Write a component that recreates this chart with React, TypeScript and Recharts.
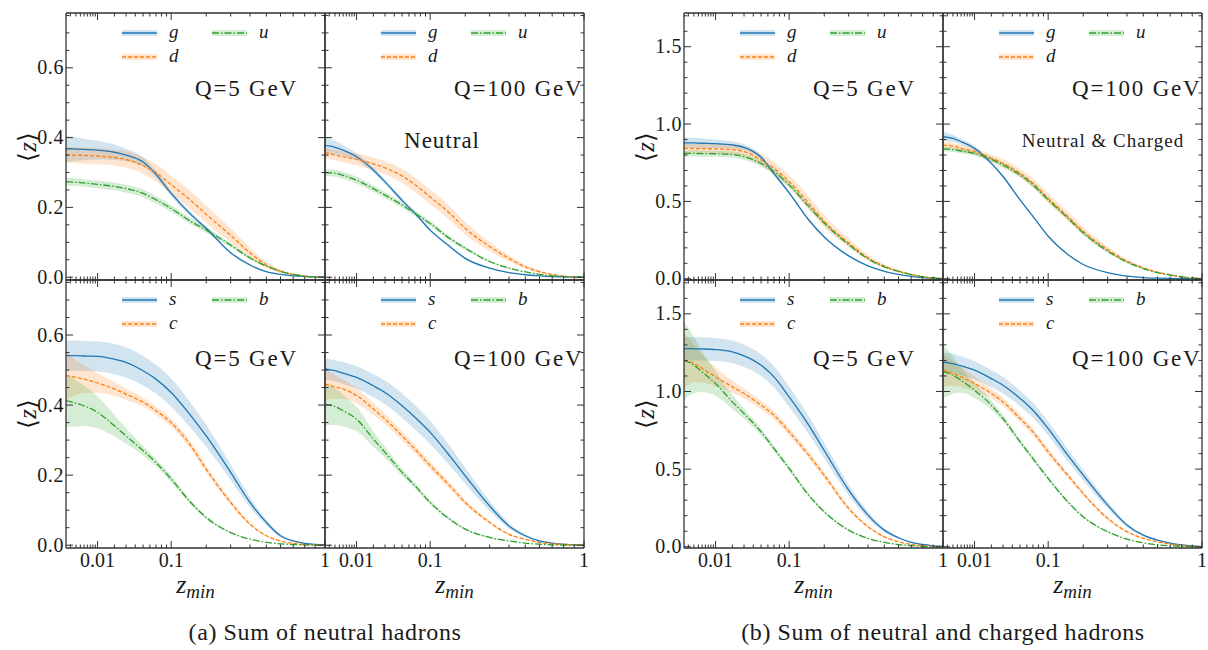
import React from 'react';
import { ComposedChart, Area, Line, XAxis, YAxis } from 'recharts';

// z_min grid shared by all panels
const zGrid = [0.0014, 0.002, 0.003, 0.005, 0.01, 0.02, 0.03, 0.05, 0.07, 0.1, 0.15, 0.2, 0.3, 0.4, 0.5, 0.6, 0.7, 0.8, 0.9, 1];

// (a) neutral hadrons, Q = 5 GeV
const nQ5g = [0.368, 0.368, 0.367, 0.366, 0.364, 0.358, 0.35, 0.33, 0.295, 0.24, 0.18, 0.14, 0.07, 0.035, 0.016, 0.008, 0.004, 0.002, 0.001, 0];
const nQ5gErr = [0.037, 0.036, 0.034, 0.031, 0.027, 0.022, 0.018, 0.013, 0.01, 0.008, 0.007, 0.006, 0.004, 0.003, 0.002, 0.001, 0.001, 0, 0, 0];
const nQ5d = [0.35, 0.35, 0.35, 0.349, 0.347, 0.343, 0.337, 0.32, 0.3, 0.265, 0.22, 0.18, 0.12, 0.07, 0.035, 0.017, 0.008, 0.003, 0.001, 0];
const nQ5dErr = [0.023, 0.023, 0.023, 0.023, 0.023, 0.023, 0.023, 0.024, 0.025, 0.026, 0.026, 0.025, 0.02, 0.014, 0.009, 0.005, 0.003, 0.001, 0, 0];
const nQ5u = [0.273, 0.273, 0.272, 0.27, 0.266, 0.26, 0.254, 0.24, 0.222, 0.197, 0.16, 0.135, 0.092, 0.055, 0.032, 0.017, 0.008, 0.003, 0.001, 0];
const nQ5uErr = [0.011, 0.011, 0.011, 0.011, 0.011, 0.011, 0.011, 0.011, 0.011, 0.01, 0.009, 0.008, 0.006, 0.004, 0.003, 0.002, 0.001, 0, 0, 0];
const nQ5s = [0.541, 0.541, 0.541, 0.54, 0.539, 0.531, 0.522, 0.498, 0.474, 0.436, 0.37, 0.312, 0.208, 0.122, 0.065, 0.027, 0.012, 0.005, 0.002, 0.001];
const nQ5sErr = [0.043, 0.043, 0.043, 0.043, 0.043, 0.043, 0.043, 0.042, 0.041, 0.04, 0.036, 0.032, 0.022, 0.014, 0.008, 0.004, 0.002, 0.001, 0, 0];
const nQ5c = [0.484, 0.482, 0.479, 0.474, 0.463, 0.446, 0.431, 0.408, 0.384, 0.35, 0.284, 0.217, 0.122, 0.06, 0.027, 0.012, 0.005, 0.002, 0.001, 0];
const nQ5cErr = [0.07, 0.06, 0.05, 0.04, 0.028, 0.02, 0.016, 0.013, 0.012, 0.012, 0.011, 0.01, 0.007, 0.004, 0.002, 0.001, 0.001, 0, 0, 0];
const nQ5b = [0.412, 0.41, 0.405, 0.398, 0.379, 0.341, 0.312, 0.27, 0.236, 0.189, 0.122, 0.079, 0.036, 0.017, 0.008, 0.004, 0.002, 0.001, 0, 0];
const nQ5bErr = [0.075, 0.072, 0.066, 0.058, 0.046, 0.031, 0.022, 0.014, 0.011, 0.009, 0.006, 0.004, 0.002, 0.001, 0, 0, 0, 0, 0, 0];

// (a) neutral hadrons, Q = 100 GeV
const nQ100g = [0.378, 0.376, 0.372, 0.364, 0.345, 0.307, 0.273, 0.22, 0.183, 0.135, 0.088, 0.054, 0.026, 0.013, 0.007, 0.004, 0.002, 0.001, 0, 0];
const nQ100gErr = [0.025, 0.022, 0.019, 0.015, 0.01, 0.008, 0.007, 0.006, 0.005, 0.004, 0.003, 0.003, 0.002, 0.001, 0.001, 0, 0, 0, 0, 0];
const nQ100d = [0.356, 0.354, 0.35, 0.345, 0.338, 0.325, 0.313, 0.29, 0.265, 0.23, 0.183, 0.14, 0.088, 0.054, 0.03, 0.016, 0.008, 0.003, 0.001, 0];
const nQ100dErr = [0.015, 0.015, 0.015, 0.016, 0.017, 0.018, 0.019, 0.02, 0.021, 0.021, 0.02, 0.018, 0.013, 0.009, 0.006, 0.004, 0.002, 0.001, 0, 0];
const nQ100u = [0.3, 0.299, 0.298, 0.292, 0.278, 0.254, 0.235, 0.207, 0.183, 0.154, 0.111, 0.083, 0.045, 0.026, 0.015, 0.008, 0.004, 0.002, 0.001, 0];
const nQ100uErr = [0.01, 0.01, 0.01, 0.01, 0.01, 0.009, 0.009, 0.008, 0.008, 0.007, 0.006, 0.005, 0.003, 0.002, 0.001, 0.001, 0, 0, 0, 0];
const nQ100s = [0.503, 0.501, 0.498, 0.491, 0.479, 0.455, 0.436, 0.398, 0.365, 0.322, 0.255, 0.198, 0.112, 0.055, 0.027, 0.012, 0.006, 0.003, 0.001, 0];
const nQ100sErr = [0.03, 0.03, 0.03, 0.031, 0.032, 0.033, 0.034, 0.035, 0.035, 0.033, 0.028, 0.023, 0.014, 0.008, 0.004, 0.002, 0.001, 0, 0, 0];
const nQ100c = [0.46, 0.457, 0.452, 0.446, 0.427, 0.389, 0.36, 0.312, 0.274, 0.227, 0.17, 0.122, 0.065, 0.031, 0.017, 0.008, 0.004, 0.002, 0.001, 0];
const nQ100cErr = [0.045, 0.04, 0.034, 0.028, 0.022, 0.017, 0.015, 0.013, 0.012, 0.011, 0.009, 0.007, 0.004, 0.002, 0.001, 0.001, 0, 0, 0, 0];
const nQ100b = [0.403, 0.4, 0.396, 0.384, 0.36, 0.303, 0.265, 0.208, 0.17, 0.122, 0.074, 0.046, 0.022, 0.012, 0.006, 0.003, 0.001, 0, 0, 0];
const nQ100bErr = [0.06, 0.057, 0.052, 0.045, 0.035, 0.022, 0.016, 0.01, 0.008, 0.006, 0.004, 0.003, 0.002, 0.001, 0, 0, 0, 0, 0, 0];

// (b) neutral + charged hadrons, Q = 5 GeV
const cQ5g = [0.879, 0.879, 0.878, 0.876, 0.873, 0.865, 0.85, 0.785, 0.68, 0.555, 0.38, 0.27, 0.148, 0.083, 0.048, 0.028, 0.015, 0.007, 0.003, 0];
const cQ5gErr = [0.035, 0.034, 0.033, 0.031, 0.028, 0.024, 0.02, 0.016, 0.013, 0.01, 0.008, 0.006, 0.004, 0.003, 0.002, 0.001, 0, 0, 0, 0];
const cQ5d = [0.843, 0.843, 0.842, 0.841, 0.84, 0.835, 0.822, 0.768, 0.714, 0.628, 0.489, 0.371, 0.232, 0.135, 0.082, 0.049, 0.028, 0.013, 0.005, 0];
const cQ5dErr = [0.03, 0.03, 0.03, 0.03, 0.031, 0.033, 0.035, 0.038, 0.04, 0.042, 0.042, 0.038, 0.028, 0.018, 0.011, 0.007, 0.004, 0.002, 0.001, 0];
const cQ5u = [0.81, 0.81, 0.81, 0.809, 0.808, 0.803, 0.789, 0.746, 0.693, 0.607, 0.468, 0.36, 0.221, 0.129, 0.077, 0.047, 0.027, 0.013, 0.005, 0];
const cQ5uErr = [0.02, 0.02, 0.02, 0.02, 0.02, 0.02, 0.019, 0.018, 0.017, 0.016, 0.014, 0.012, 0.009, 0.006, 0.004, 0.002, 0.001, 0, 0, 0];
const cQ5s = [1.276, 1.276, 1.275, 1.274, 1.27, 1.255, 1.229, 1.169, 1.094, 0.965, 0.783, 0.62, 0.365, 0.204, 0.107, 0.058, 0.028, 0.015, 0.006, 0.002];
const cQ5sErr = [0.075, 0.075, 0.075, 0.075, 0.074, 0.073, 0.072, 0.07, 0.068, 0.065, 0.058, 0.05, 0.035, 0.022, 0.013, 0.007, 0.004, 0.002, 0.001, 0];
const cQ5c = [1.201, 1.195, 1.18, 1.148, 1.094, 1.03, 0.987, 0.912, 0.847, 0.74, 0.59, 0.461, 0.247, 0.129, 0.064, 0.032, 0.015, 0.007, 0.003, 0];
const cQ5cErr = [0.18, 0.15, 0.12, 0.09, 0.06, 0.04, 0.032, 0.028, 0.026, 0.025, 0.024, 0.021, 0.014, 0.008, 0.004, 0.002, 0.001, 0, 0, 0];
const cQ5b = [1.201, 1.19, 1.169, 1.126, 1.051, 0.933, 0.858, 0.74, 0.633, 0.504, 0.332, 0.225, 0.107, 0.054, 0.028, 0.014, 0.007, 0.003, 0.001, 0];
const cQ5bErr = [0.25, 0.22, 0.18, 0.13, 0.08, 0.045, 0.032, 0.022, 0.018, 0.015, 0.012, 0.009, 0.005, 0.003, 0.002, 0.001, 0, 0, 0, 0];

// (b) neutral + charged hadrons, Q = 100 GeV
const cQ100g = [0.918, 0.914, 0.907, 0.886, 0.843, 0.746, 0.661, 0.51, 0.403, 0.275, 0.157, 0.092, 0.039, 0.017, 0.008, 0.004, 0.002, 0.001, 0, 0];
const cQ100gErr = [0.03, 0.027, 0.023, 0.019, 0.015, 0.011, 0.009, 0.007, 0.006, 0.005, 0.004, 0.003, 0.002, 0.001, 0, 0, 0, 0, 0, 0];
const cQ100d = [0.864, 0.862, 0.858, 0.843, 0.822, 0.779, 0.746, 0.682, 0.618, 0.521, 0.403, 0.307, 0.189, 0.114, 0.071, 0.043, 0.026, 0.013, 0.005, 0];
const cQ100dErr = [0.02, 0.02, 0.02, 0.021, 0.022, 0.024, 0.026, 0.028, 0.03, 0.031, 0.03, 0.026, 0.018, 0.011, 0.007, 0.004, 0.002, 0.001, 0, 0];
const cQ100u = [0.839, 0.838, 0.835, 0.826, 0.811, 0.772, 0.736, 0.671, 0.607, 0.511, 0.393, 0.296, 0.178, 0.107, 0.066, 0.04, 0.024, 0.012, 0.005, 0];
const cQ100uErr = [0.015, 0.015, 0.015, 0.015, 0.015, 0.015, 0.015, 0.015, 0.014, 0.013, 0.012, 0.01, 0.008, 0.005, 0.003, 0.002, 0.001, 0, 0, 0];
const cQ100s = [1.19, 1.186, 1.18, 1.165, 1.137, 1.083, 1.04, 0.955, 0.879, 0.761, 0.59, 0.461, 0.268, 0.139, 0.075, 0.043, 0.024, 0.012, 0.005, 0.001];
const cQ100sErr = [0.065, 0.064, 0.063, 0.061, 0.058, 0.055, 0.053, 0.05, 0.048, 0.045, 0.04, 0.034, 0.022, 0.013, 0.007, 0.004, 0.002, 0.001, 0, 0];
const cQ100c = [1.137, 1.13, 1.115, 1.094, 1.051, 0.987, 0.933, 0.826, 0.74, 0.611, 0.461, 0.343, 0.182, 0.097, 0.054, 0.032, 0.017, 0.008, 0.003, 0];
const cQ100cErr = [0.11, 0.095, 0.08, 0.065, 0.045, 0.032, 0.027, 0.024, 0.022, 0.02, 0.018, 0.015, 0.01, 0.006, 0.003, 0.002, 0.001, 0, 0, 0];
const cQ100b = [1.126, 1.12, 1.105, 1.072, 1.008, 0.912, 0.826, 0.676, 0.568, 0.44, 0.29, 0.193, 0.097, 0.049, 0.025, 0.012, 0.006, 0.003, 0.001, 0];
const cQ100bErr = [0.17, 0.15, 0.12, 0.08, 0.05, 0.03, 0.022, 0.016, 0.014, 0.012, 0.009, 0.007, 0.004, 0.002, 0.001, 0, 0, 0, 0, 0];

// tick values
const xMajors = [0.01, 0.1, 1];
const xMinors = [0.002, 0.003, 0.004, 0.005, 0.006, 0.007, 0.008, 0.009, 0.02, 0.03, 0.04, 0.05, 0.06, 0.07, 0.08, 0.09, 0.2, 0.3, 0.4, 0.5, 0.6, 0.7, 0.8, 0.9];
const yMajorsN = [0, 0.2, 0.4, 0.6];
const yMinorsN = [0.05, 0.1, 0.15, 0.25, 0.3, 0.35, 0.45, 0.5, 0.55, 0.65, 0.7, 0.75];
const yMajorsC = [0, 0.5, 1.0, 1.5];
const yMinorsC = [0.1, 0.2, 0.3, 0.4, 0.6, 0.7, 0.8, 0.9, 1.1, 1.2, 1.3, 1.4, 1.6, 1.7];

// the x axis of the original is a power-law stretch of z_min
const POW = 0.32;
const tz = (z: number) => Math.pow(z, POW);
const Z_LO = 0.0014;

const COLORS = ['#1f77b4', '#ff7f0e', '#2ca02c'];
const DASHES = [undefined, '4 2', '7 2 1.5 2'];
const FRAME = '#333';
const FONT = '"Liberation Serif", "Times New Roman", serif';
const INK = '#1a1a1a';

const PW = 259;
const L = 60, R = 14, T = 4, B = 30;

const near = (a: number, b: number) => Math.abs(a - b) < 1e-9;

function tickRenderer(side: string, majors: number[], show: boolean, toT: (v: number) => number, fmt: (v: number) => string) {
  return (props: any) => {
    const { x, y, payload } = props;
    const v = payload.value;
    const major = majors.find((m) => near(toT(m), v));
    const len = major !== undefined ? 7 : 3.5;
    let line;
    if (side === 'bottom') line = <line x1={x} x2={x} y1={y} y2={y - len} />;
    else if (side === 'top') line = <line x1={x} x2={x} y1={y} y2={y + len} />;
    else if (side === 'left') line = <line x1={x} x2={x + len} y1={y} y2={y} />;
    else line = <line x1={x} x2={x - len} y1={y} y2={y} />;
    return (
      <g stroke={FRAME} strokeWidth={1}>
        {line}
        {show && major !== undefined && side === 'bottom' && (
          <text x={x} y={y + 19} textAnchor="middle" stroke="none" fill={INK} fontSize={20} fontFamily={FONT}>{fmt(major)}</text>
        )}
        {show && major !== undefined && side === 'left' && (
          <text x={x - 2} y={y + 6.5} textAnchor="end" stroke="none" fill={INK} fontSize={20} fontFamily={FONT} letterSpacing={0.6}>{fmt(major)}</text>
        )}
      </g>
    );
  };
}

interface Series { name: string; vals: number[]; errs: number[] }
interface PanelCfg {
  x: number; y: number; h: number; charged: boolean; series: Series[];
  q: string; note?: string; xLabels: boolean; yLabels: boolean;
}

const gdu = ['g', 'd', 'u'];
const scb = ['s', 'c', 'b'];
const mk = (names: string[], arr: number[][]): Series[] =>
  names.map((n, k) => ({ name: n, vals: arr[2 * k], errs: arr[2 * k + 1] }));

const panels: PanelCfg[] = [
  { x: 66, y: 13, h: 267, charged: false, series: mk(gdu, [nQ5g, nQ5gErr, nQ5d, nQ5dErr, nQ5u, nQ5uErr]), q: 'Q=5 GeV', xLabels: false, yLabels: true },
  { x: 325, y: 13, h: 267, charged: false, series: mk(gdu, [nQ100g, nQ100gErr, nQ100d, nQ100dErr, nQ100u, nQ100uErr]), q: 'Q=100 GeV', note: 'Neutral', xLabels: false, yLabels: false },
  { x: 66, y: 280, h: 268, charged: false, series: mk(scb, [nQ5s, nQ5sErr, nQ5c, nQ5cErr, nQ5b, nQ5bErr]), q: 'Q=5 GeV', xLabels: true, yLabels: true },
  { x: 325, y: 280, h: 268, charged: false, series: mk(scb, [nQ100s, nQ100sErr, nQ100c, nQ100cErr, nQ100b, nQ100bErr]), q: 'Q=100 GeV', xLabels: true, yLabels: false },
  { x: 684, y: 13, h: 267, charged: true, series: mk(gdu, [cQ5g, cQ5gErr, cQ5d, cQ5dErr, cQ5u, cQ5uErr]), q: 'Q=5 GeV', xLabels: false, yLabels: true },
  { x: 943, y: 13, h: 267, charged: true, series: mk(gdu, [cQ100g, cQ100gErr, cQ100d, cQ100dErr, cQ100u, cQ100uErr]), q: 'Q=100 GeV', note: 'Neutral & Charged', xLabels: false, yLabels: false },
  { x: 684, y: 280, h: 268, charged: true, series: mk(scb, [cQ5s, cQ5sErr, cQ5c, cQ5cErr, cQ5b, cQ5bErr]), q: 'Q=5 GeV', xLabels: true, yLabels: true },
  { x: 943, y: 280, h: 268, charged: true, series: mk(scb, [cQ100s, cQ100sErr, cQ100c, cQ100cErr, cQ100b, cQ100bErr]), q: 'Q=100 GeV', xLabels: true, yLabels: false },
];

const xTicks = [...xMajors, ...xMinors].map(tz);
const xFmt = (z: number) => (z === 1 ? '1' : String(z));
const yFmt = (v: number) => v.toFixed(1);

function Panel({ p }: { p: PanelCfg }) {
  const rows = zGrid.map((z, i) => {
    const r: any = { t: tz(z) };
    p.series.forEach((s, k) => {
      r['v' + k] = s.vals[i];
      r['b' + k] = [s.vals[i] - s.errs[i], s.vals[i] + s.errs[i]];
    });
    return r;
  });
  const yDomain = p.charged ? [-0.008, 1.718] : [-0.008, 0.757];
  const yMaj = p.charged ? yMajorsC : yMajorsN;
  const yTicks = [...yMaj, ...(p.charged ? yMinorsC : yMinorsN)];
  const xDomain = [tz(Z_LO), 1];
  const axisLine = { stroke: FRAME, strokeWidth: 1.3 };
  const ident = (v: number) => v;
  return (
    <div style={{ position: 'absolute', left: p.x - L, top: p.y - T }}>
      <ComposedChart width={L + PW + R} height={T + p.h + B} data={rows} margin={{ top: 0, right: 0, bottom: 0, left: 0 }}>
        <XAxis xAxisId="b" orientation="bottom" dataKey="t" type="number" domain={xDomain} allowDataOverflow ticks={xTicks} interval={0}
          height={B} tickSize={0} tickMargin={0} axisLine={axisLine} tickLine={false} tick={tickRenderer('bottom', xMajors, p.xLabels, tz, xFmt)} />
        <XAxis xAxisId="t" orientation="top" dataKey="t" type="number" domain={xDomain} allowDataOverflow ticks={xTicks} interval={0}
          height={T} tickSize={0} tickMargin={0} axisLine={axisLine} tickLine={false} tick={tickRenderer('top', xMajors, false, tz, xFmt)} />
        <YAxis yAxisId="l" orientation="left" type="number" domain={yDomain} allowDataOverflow ticks={yTicks} interval={0}
          width={L} tickSize={0} tickMargin={0} axisLine={axisLine} tickLine={false} tick={tickRenderer('left', yMaj, p.yLabels, ident, yFmt)} />
        <YAxis yAxisId="r" orientation="right" type="number" domain={yDomain} allowDataOverflow ticks={yTicks} interval={0}
          width={R} tickSize={0} tickMargin={0} axisLine={axisLine} tickLine={false} tick={tickRenderer('right', yMaj, false, ident, yFmt)} />
        {p.series.map((s, k) => (
          <Area key={'a' + k} xAxisId="b" yAxisId="l" type="monotone" dataKey={'b' + k} stroke="none" fill={COLORS[k]} fillOpacity={0.2} isAnimationActive={false} />
        ))}
        {p.series.map((s, k) => (
          <Line key={'l' + k} xAxisId="b" yAxisId="l" type="monotone" dataKey={'v' + k} stroke={COLORS[k]} strokeWidth={1.3}
            strokeDasharray={DASHES[k]} dot={false} activeDot={false} isAnimationActive={false} />
        ))}
        <Line xAxisId="t" yAxisId="r" type="monotone" dataKey="v0" stroke="none" dot={false} activeDot={false} isAnimationActive={false} />
      </ComposedChart>
    </div>
  );
}

const textBase: React.CSSProperties = { position: 'absolute', fontFamily: FONT, color: INK, whiteSpace: 'nowrap', lineHeight: 1 };

function Annotations({ p }: { p: PanelCfg }) {
  const pos = [[56, 20], [56, 44], [146, 20]];
  const top = p.y < 100;
  return (
    <>
      <svg style={{ position: 'absolute', left: p.x, top: p.y, overflow: 'visible' }} width={PW} height={60}>
        {p.series.map((s, k) => {
          const [lx, ly] = pos[k];
          return (
            <g key={k}>
              <rect x={lx} y={ly - 3} width={35} height={6} fill={COLORS[k]} fillOpacity={0.2} />
              <line x1={lx} x2={lx + 35} y1={ly} y2={ly} stroke={COLORS[k]} strokeWidth={1.3} strokeDasharray={DASHES[k]} />
              <text x={lx + 47} y={ly + 5} fontStyle="italic" fontSize={19} fontFamily={FONT} fill={INK}>{s.name}</text>
            </g>
          );
        })}
      </svg>
      <div style={{ ...textBase, left: p.x + 129, top: p.y + (top ? 75 : 78), transform: 'translateY(-50%)', fontSize: 23, letterSpacing: 1.8 }}>
        {p.q}
      </div>
      {p.note && (
        <div style={{ ...textBase, left: p.charged ? p.x + 160 : p.x + 117, top: p.y + 127, transform: 'translate(-50%, -50%)', fontSize: p.charged ? 19 : 23, letterSpacing: 1 }}>
          {p.note}
        </div>
      )}
      {p.yLabels && (
        <div style={{ ...textBase, left: p.x - 39, top: p.y + p.h / 2, transform: 'translate(-50%, -50%) rotate(-90deg)', fontSize: 25 }}>
          ⟨<i>z</i>⟩
        </div>
      )}
      {p.xLabels && (
        <div style={{ ...textBase, left: p.x + PW / 2, top: 585, transform: 'translate(-50%, -50%)', fontSize: 26, fontStyle: 'italic' }}>
          z<span style={{ fontSize: 19, position: 'relative', top: 5 }}>min</span>
        </div>
      )}
    </>
  );
}

export default function App() {
  return (
    <div style={{ position: 'absolute', left: 0, top: 0, width: 1208, height: 650, background: '#fff', overflow: 'hidden' }}>
      {panels.map((p, i) => <Panel key={i} p={p} />)}
      {panels.map((p, i) => <Annotations key={'n' + i} p={p} />)}
      <div style={{ ...textBase, left: 325, top: 632, transform: 'translate(-50%, -50%)', fontSize: 24, letterSpacing: 0.6 }}>
        (a) Sum of neutral hadrons
      </div>
      <div style={{ ...textBase, left: 943, top: 632, transform: 'translate(-50%, -50%)', fontSize: 24, letterSpacing: 0.6 }}>
        (b) Sum of neutral and charged hadrons
      </div>
    </div>
  );
}
